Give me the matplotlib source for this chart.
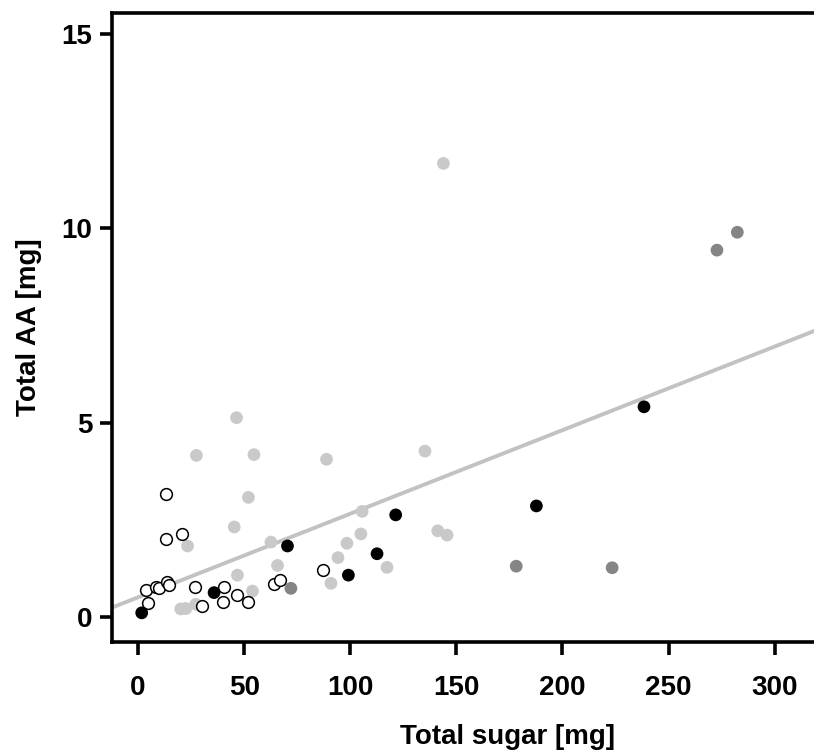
import matplotlib
matplotlib.use("Agg")
import matplotlib.pyplot as plt

# ---- data ----
open_x = [13.1, 13.1, 20.6, 3.6, 4.9, 8.3, 9.9, 13.8, 14.6, 26.6, 30.0, 40.6, 39.8, 46.5, 51.9, 64.2, 66.8, 87.3]
open_y = [3.16, 2.02, 2.15, 0.69, 0.37, 0.78, 0.74, 0.91, 0.82, 0.78, 0.28, 0.78, 0.39, 0.58, 0.39, 0.84, 0.95, 1.22]

black_x = [1.7, 35.8, 70.4, 99.1, 112.6, 121.4, 187.7, 238.4]
black_y = [0.11, 0.63, 1.83, 1.08, 1.63, 2.63, 2.86, 5.41]

dark_x = [72.0, 178.2, 223.4, 272.8, 282.4]
dark_y = [0.74, 1.31, 1.27, 9.44, 9.90]

light_x = [143.9, 46.4, 27.5, 54.6, 88.8, 135.2, 52.0, 45.3, 23.3, 62.6, 105.6, 105.0,
           98.4, 94.2, 65.7, 46.8, 53.9, 117.3, 90.9, 141.2, 145.6, 20.1, 22.5, 27.2]
light_y = [11.67, 5.13, 4.16, 4.18, 4.06, 4.27, 3.08, 2.32, 1.83, 1.93, 2.72, 2.14,
           1.90, 1.53, 1.33, 1.08, 0.67, 1.28, 0.87, 2.22, 2.11, 0.21, 0.22, 0.33]

fit_intercept = 0.51
fit_slope = 0.0215

x_ticks = [0, 50, 100, 150, 200, 250, 300]
y_ticks = [0, 5, 10, 15]
x_label = "Total sugar [mg]"
y_label = "Total AA [mg]"

FAM = ['Liberation Sans', 'DejaVu Sans']
plt.rcParams['font.family'] = FAM

# ---- figure ----
W, H = 814, 755
fig = plt.figure(figsize=(W / 100, H / 100), dpi=100)
left_px, right_px, top_px, bottom_px = 112, 902, 13, 642
ax = fig.add_axes([left_px / W, (H - bottom_px) / H,
                   (right_px - left_px) / W, (bottom_px - top_px) / H])

ax.set_xlim(-12.3, 360)
ax.set_ylim(-0.64, 15.54)

ax.axline((0, fit_intercept), slope=fit_slope, color="#c2c2c2", lw=2.8, zorder=1)

ms = 84
ax.scatter(light_x, light_y, s=ms, color="#c9c9c9", edgecolors="none", zorder=2)
ax.scatter(dark_x, dark_y, s=ms, color="#858585", edgecolors="none", zorder=3)
ax.scatter(open_x, open_y, s=ms * 0.85, facecolors="white", edgecolors="black",
           linewidths=1.1, zorder=3)
ax.scatter(black_x, black_y, s=ms, color="black", edgecolors="none", zorder=4)

for s in ["left", "bottom", "top", "right"]:
    ax.spines[s].set_linewidth(2.6)
    ax.spines[s].set_color("black")

ax.set_xticks(x_ticks)
ax.set_yticks(y_ticks)
ax.set_xticklabels([str(v) for v in x_ticks], fontsize=20, fontweight="bold", family=FAM)
ax.set_yticklabels([str(v) for v in y_ticks], fontsize=20, fontweight="bold", family=FAM)
ax.tick_params(axis="x", length=9.5, width=2.6, pad=14, direction="out")
ax.tick_params(axis="y", length=9, width=2.6, pad=5, direction="out")

ax.set_xlabel(x_label, fontsize=20, fontweight="bold", labelpad=17, family=FAM)
ax.set_ylabel(y_label, fontsize=20, fontweight="bold", labelpad=14, family=FAM)

fig.savefig("out.png", dpi=100)
